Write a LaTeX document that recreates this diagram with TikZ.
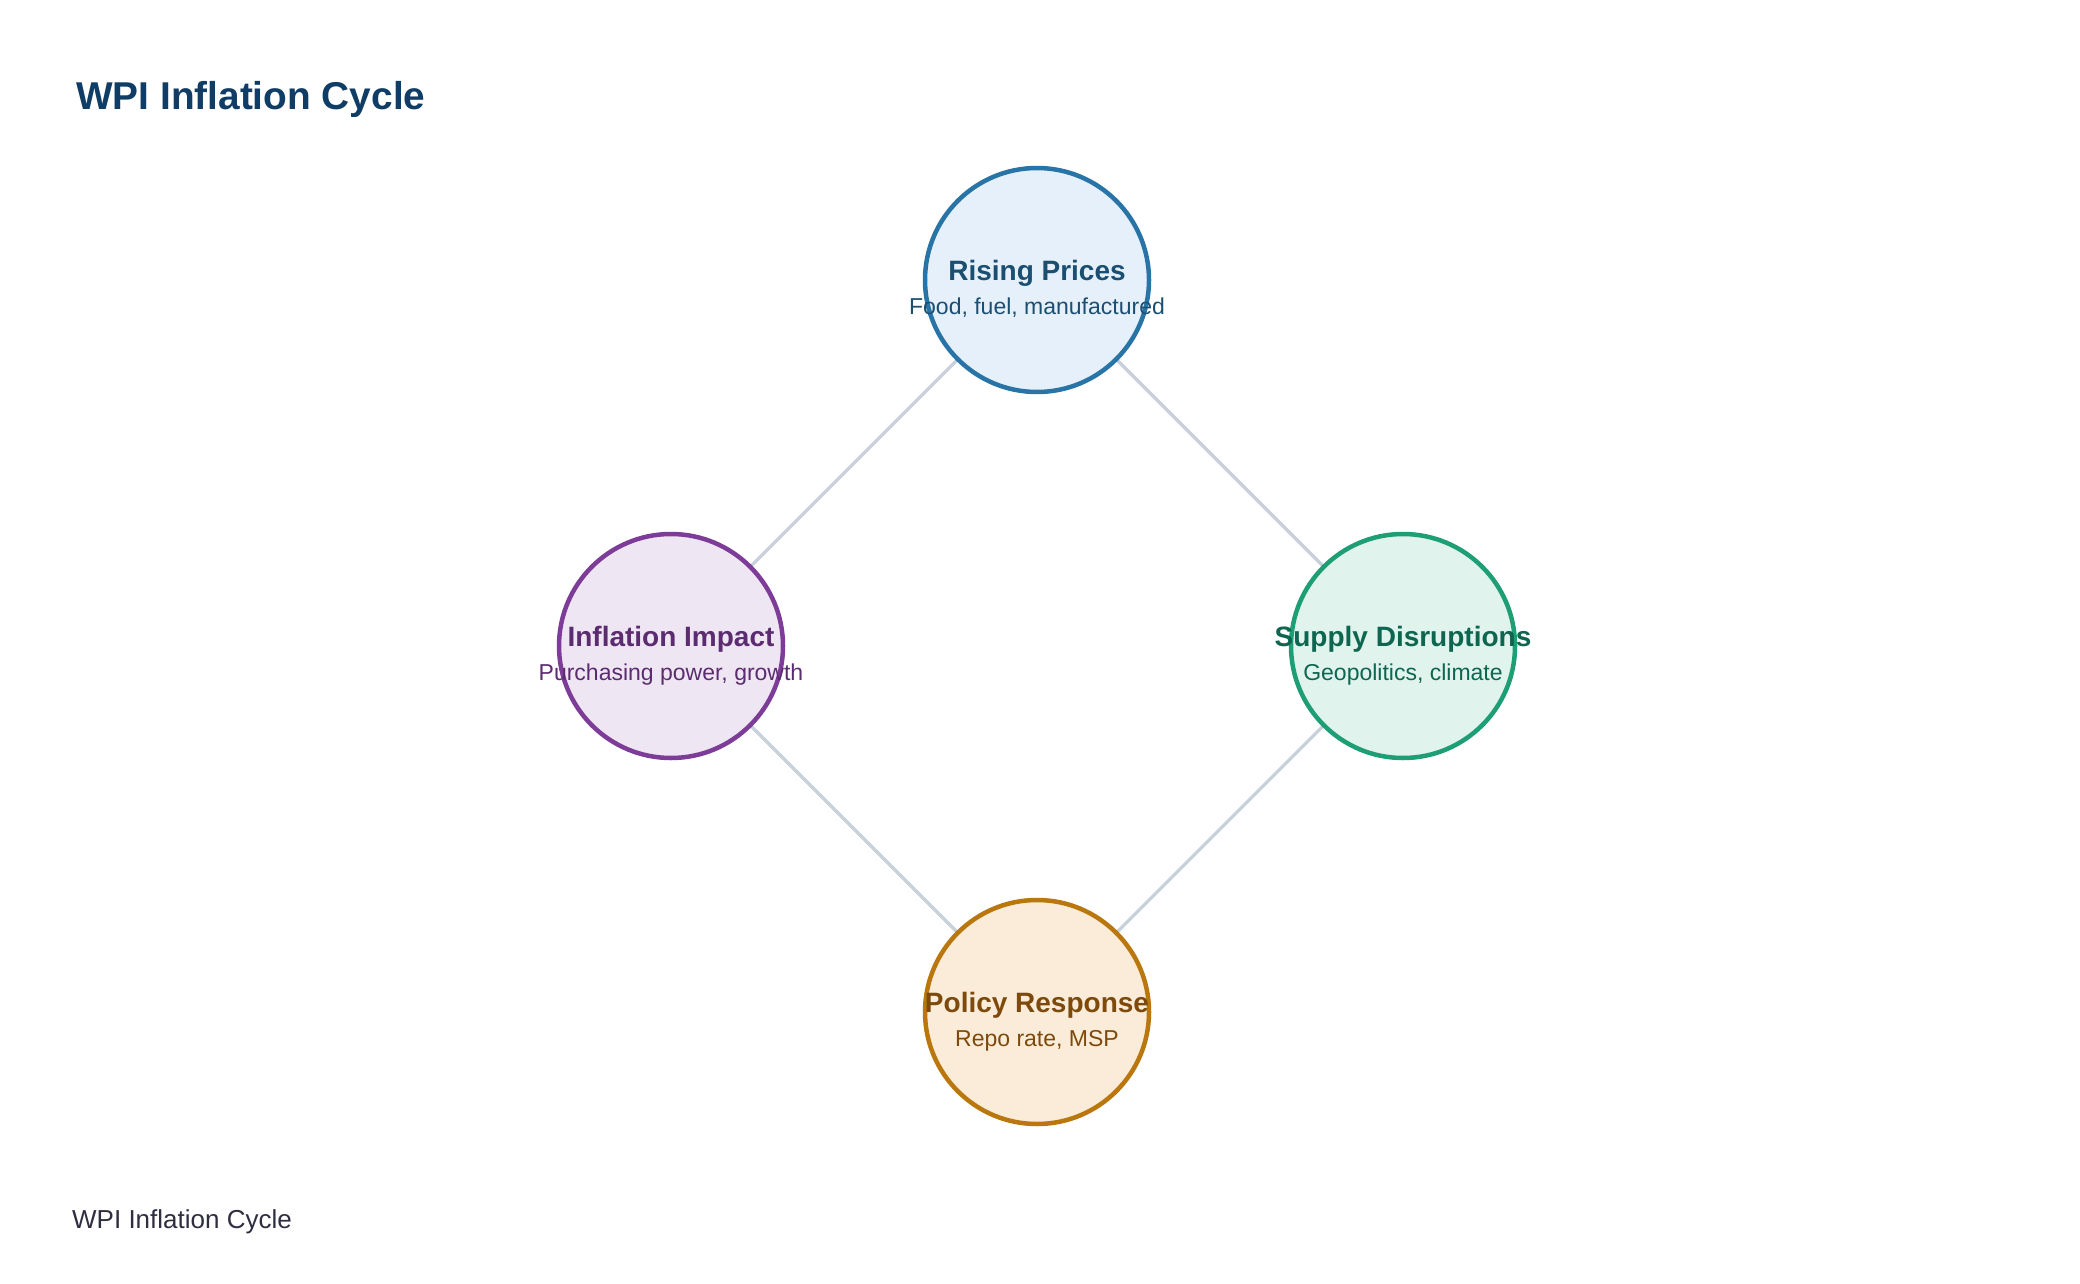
\documentclass[tikz,border=0pt]{standalone}
\usepackage{fontspec}
\usetikzlibrary{backgrounds}
\setmainfont{Liberation Sans}
\definecolor{titleblue}{HTML}{0F3D66}
\definecolor{footgray}{HTML}{2E2E40}
\definecolor{linkgray}{HTML}{C8D0DB}
\definecolor{bStroke}{HTML}{2874A6}\definecolor{bFill}{HTML}{E6F0FA}\definecolor{bText}{HTML}{1B4F72}
\definecolor{pStroke}{HTML}{7D3C98}\definecolor{pFill}{HTML}{EFE6F4}\definecolor{pText}{HTML}{5B2C6F}
\definecolor{gStroke}{HTML}{1E9E74}\definecolor{gFill}{HTML}{E0F3EC}\definecolor{gText}{HTML}{0E6650}
\definecolor{oStroke}{HTML}{B9770E}\definecolor{oFill}{HTML}{FAECD9}\definecolor{oText}{HTML}{7E4A0B}
\begin{document}
\begin{tikzpicture}[x=1pt,y=-1pt,
  cyc/.style={circle,minimum size=224pt,inner sep=0pt,line width=4.5pt},
  head/.style={anchor=base,inner sep=0pt,font=\fontsize{28}{32}\selectfont\bfseries},
  sub/.style={anchor=base,inner sep=0pt,font=\fontsize{23}{27}\selectfont},
  link/.style={draw=linkgray,line width=3.2pt}]
\useasboundingbox (0,0) rectangle (2080,1284);
\node[anchor=base west,inner sep=0pt,text=titleblue,font=\fontsize{38.8}{46}\selectfont\bfseries] (title) at (76,110) {WPI Inflation Cycle};
\node[anchor=base west,inner sep=0pt,text=footgray,font=\fontsize{26}{31}\selectfont] (foot) at (72,1228) {WPI Inflation Cycle};
% circles
\node[cyc,draw=bStroke,fill=bFill] (rise) at (1037,280) {};
\node[cyc,draw=gStroke,fill=gFill] (supply) at (1403,646) {};
\node[cyc,draw=oStroke,fill=oFill] (policy) at (1037,1012) {};
\node[cyc,draw=pStroke,fill=pFill] (impact) at (671,646) {};
% connectors
\begin{scope}[on background layer]
\fill[white] (0,0) rectangle (2080,1284);
\path[link] (rise.center) -- (supply.center);
\path[link] (supply.center) -- (policy.center);
\path[link] (policy.center) -- (impact.center);
\path[link] (impact.center) -- (rise.center);
\end{scope}
% labels
\node[head,text=bText] (riseT) at (1037,280) {Rising Prices};
\node[sub,text=bText] (riseS) at (1037,314) {Food, fuel, manufactured};
\node[head,text=gText] (supplyT) at (1403,646) {Supply Disruptions};
\node[sub,text=gText] (supplyS) at (1403,680) {Geopolitics, climate};
\node[head,text=oText] (policyT) at (1037,1012) {Policy Response};
\node[sub,text=oText] (policyS) at (1037,1046) {Repo rate, MSP};
\node[head,text=pText] (impactT) at (671,646) {Inflation Impact};
\node[sub,text=pText] (impactS) at (671,680) {Purchasing power, growth};
\end{tikzpicture}
\end{document}
